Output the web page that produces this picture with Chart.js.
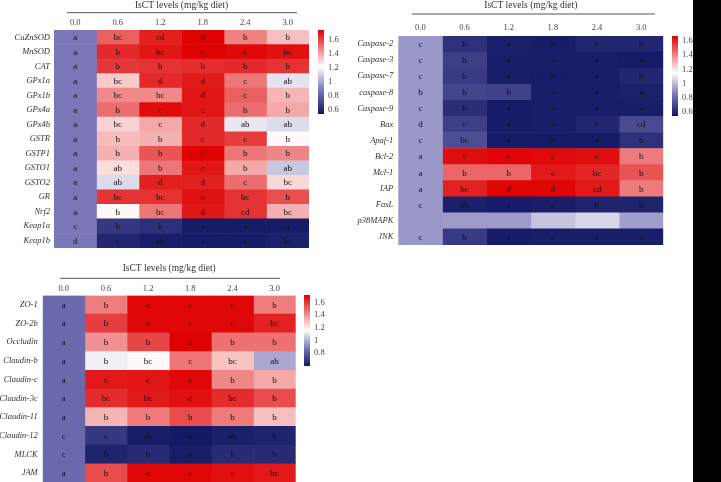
<!DOCTYPE html>
<html><head><meta charset="utf-8">
<script src="https://cdn.jsdelivr.net/npm/chart.js@4.4.1/dist/chart.umd.min.js"></script>
<style>
html,body{margin:0;padding:0;background:#fff;overflow:hidden;width:721px;height:482px;}
canvas{position:absolute;}
#blk{position:absolute;left:693px;top:0;width:28px;height:482px;background:#000;z-index:5;}
</style></head><body>
<canvas id="h1"></canvas><canvas id="h2"></canvas><canvas id="h3"></canvas>
<canvas id="c1"></canvas><canvas id="c2"></canvas><canvas id="c3"></canvas>
<div id="blk"></div>
<script>
// ---------- data ----------
const doses = ['0.0','0.6','1.2','1.8','2.4','3.0'];
const axisTitle = 'IsCT levels (mg/kg diet)';

const antioxGenes = ['CuZnSOD','MnSOD','CAT','GPx1a','GPx1b','GPx4a','GPx4b','GSTR','GSTP1','GSTO1','GSTO2','GR','Nrf2','Keap1a','Keap1b'];
const antioxValues = [
  [0.88,1.55,1.68,1.74,1.48,1.35],
  [0.88,1.66,1.70,1.74,1.73,1.71],
  [0.88,1.63,1.64,1.65,1.66,1.64],
  [0.88,1.33,1.66,1.69,1.50,1.15],
  [0.88,1.46,1.46,1.70,1.55,1.37],
  [0.88,1.52,1.72,1.70,1.52,1.40],
  [0.88,1.31,1.40,1.66,1.16,1.13],
  [0.88,1.36,1.38,1.66,1.62,1.23],
  [0.88,1.38,1.57,1.74,1.50,1.47],
  [0.88,1.29,1.50,1.70,1.40,1.08],
  [0.88,1.13,1.68,1.68,1.52,1.30],
  [0.88,1.64,1.64,1.71,1.64,1.58],
  [0.88,1.23,1.50,1.70,1.64,1.38],
  [0.88,0.66,0.63,0.56,0.56,0.56],
  [0.88,0.60,0.57,0.56,0.56,0.58]
];
const antioxLetters = [
  ['a','bc','cd','d','b','b'],
  ['a','b','bc','c','c','bc'],
  ['a','b','b','b','b','b'],
  ['a','bc','d','d','c','ab'],
  ['a','bc','bc','d','c','b'],
  ['a','b','c','c','b','b'],
  ['a','bc','c','d','ab','ab'],
  ['a','b','b','c','c','b'],
  ['a','b','b','c','b','b'],
  ['a','ab','b','c','b','ab'],
  ['a','ab','d','d','c','bc'],
  ['a','bc','bc','c','bc','b'],
  ['a','b','bc','d','cd','bc'],
  ['c','b','b','a','a','a'],
  ['d','c','ab','a','a','bc']
];

const apopGenes = ['Caspase-2','Caspase-3','Caspase-7','caspase-8','Caspase-9','Bax','Apaf-1','Bcl-2','Mcl-1','IAP','FasL','p38MAPK','JNK'];
const apopValues = [
  [0.92,0.63,0.575,0.565,0.60,0.60],
  [0.92,0.67,0.57,0.57,0.57,0.56],
  [0.92,0.66,0.57,0.565,0.57,0.60],
  [0.92,0.69,0.68,0.57,0.57,0.58],
  [0.92,0.62,0.565,0.57,0.57,0.57],
  [0.92,0.67,0.565,0.57,0.60,0.71],
  [0.92,0.72,0.56,0.56,0.56,0.63],
  [0.92,1.64,1.66,1.65,1.64,1.42],
  [0.92,1.46,1.46,1.62,1.59,1.50],
  [0.92,1.60,1.66,1.66,1.62,1.42],
  [0.92,0.575,0.565,0.57,0.59,0.59],
  [0.92,0.93,0.93,1.02,1.06,0.935],
  [0.92,0.66,0.565,0.57,0.57,0.57]
];
const apopLetters = [
  ['c','b','a','a','b','b'],
  ['c','b','a','a','a','a'],
  ['c','b','a','a','a','b'],
  ['b','b','b','a','a','a'],
  ['c','b','a','a','a','a'],
  ['d','c','a','a','b','cd'],
  ['c','bc','a','a','a','b'],
  ['a','c','c','c','c','b'],
  ['a','b','b','c','bc','b'],
  ['a','bc','d','d','cd','b'],
  ['c','ab','a','a','b','b'],
  ['','','','','',''],
  ['c','b','a','a','a','a']
];

const tjGenes = ['ZO-1','ZO-2b','Occludin','Claudin-b','Claudin-c','Claudin-3c','Claudin-11','Claudin-12','MLCK','JAM'];
const tjValues = [
  [0.84,1.44,1.70,1.70,1.70,1.44],
  [0.84,1.58,1.70,1.70,1.70,1.64],
  [0.84,1.40,1.56,1.71,1.47,1.47],
  [0.84,1.13,1.17,1.46,1.29,0.98],
  [0.84,1.66,1.67,1.70,1.42,1.35],
  [0.84,1.62,1.66,1.68,1.62,1.55],
  [0.84,1.32,1.45,1.55,1.45,1.30],
  [0.84,0.70,0.62,0.61,0.63,0.64],
  [0.84,0.64,0.66,0.62,0.66,0.66],
  [0.84,1.55,1.70,1.70,1.68,1.66]
];
const tjLetters = [
  ['a','b','c','c','c','b'],
  ['a','b','c','c','c','bc'],
  ['a','b','b','c','b','b'],
  ['a','b','bc','c','bc','ab'],
  ['a','c','c','c','b','b'],
  ['a','bc','bc','c','bc','b'],
  ['a','b','b','b','b','b'],
  ['c','c','ab','a','ab','b'],
  ['c','b','b','a','b','b'],
  ['a','b','c','c','c','bc']
];

const scale1Ticks = [0.6,0.8,1,1.2,1.4,1.6];
const scale2Ticks = [0.6,0.8,1,1.2,1.4,1.6];
const scale3Ticks = [0.8,1,1.2,1.4,1.6];

// ---------- colour map ----------
const NAVY=[16,22,98], LAV=[122,118,184], WHITE=[255,255,255], RED=[222,0,0];
function mix(a,b,t){return a.map((v,k)=>Math.round(v+(b[k]-v)*t));}
function colorFor(v,cm){
  let c;
  if(v<=cm.mid){
    let t=Math.max(0,(v-cm.lo)/(cm.mid-cm.lo));
    c = t<0.5 ? mix(NAVY,LAV,t/0.5) : mix(LAV,WHITE,(t-0.5)/0.5);
  } else {
    let t=Math.min(1,(v-cm.mid)/(cm.hi-cm.mid));
    c = mix(WHITE,RED,t);
  }
  return 'rgb('+c.join(',')+')';
}

const SERIF="'Liberation Serif', 'DejaVu Serif', serif";

const cellText = {
  id:'cellText',
  afterDatasetsDraw(chart){
    const ctx=chart.ctx; ctx.save();
    ctx.font="9px "+SERIF; ctx.fillStyle='#111';
    ctx.textAlign='center'; ctx.textBaseline='middle';
    chart.data.datasets.forEach((ds,i)=>{
      const meta=chart.getDatasetMeta(i);
      meta.data.forEach((el,j)=>{
        const t=ds.letters[j]; if(!t) return;
        const p=el.getProps(['x','y','base'],true);
        ctx.fillText(t,(p.x+p.base)/2,p.y+0.5);
      });
    });
    ctx.restore();
  }
};
const headLine = {
  id:'headLine',
  afterDraw(chart,args,o){
    const ca=chart.chartArea, ctx=chart.ctx;
    ctx.save(); ctx.strokeStyle='#555'; ctx.lineWidth=1;
    ctx.beginPath(); ctx.moveTo(ca.left+o.inL,o.y); ctx.lineTo(ca.right-o.inR,o.y); ctx.stroke();
    ctx.restore();
  }
};

function place(id,left,top,w,h){
  const c=document.getElementById(id);
  c.width=Math.ceil(w); c.height=Math.ceil(h);
  c.style.left=left+'px'; c.style.top=top+'px';
  return c;
}

function makeHeat(id,g,rows,values,letters,cm,line){
  const w=g.right-g.left, h=g.bottom-g.top;
  const c=place(id,g.left,g.top,w,h);
  new Chart(c,{
    type:'bar',
    data:{labels:rows,datasets:doses.map((d,i)=>({
      data:rows.map(()=>[i,i+1]),
      backgroundColor:rows.map((r,j)=>colorFor(values[j][i],cm)),
      letters:rows.map((r,j)=>letters[j][i]),
      grouped:false,
      borderWidth:0,barPercentage:1,categoryPercentage:1
    }))},
    options:{
      indexAxis:'y',animation:false,responsive:false,devicePixelRatio:1,events:[],
      layout:{padding:{left:0,top:0,right:c.width-w,bottom:c.height-h}},
      plugins:{legend:{display:false},tooltip:{enabled:false},headLine:line},
      scales:{
        x:{type:'linear',position:'top',min:0,max:6,
          grid:{display:false,drawTicks:false},border:{display:false},
          ticks:{padding:g.tickPad,autoSkip:false,maxRotation:0,color:'#444',font:{family:SERIF,size:8.5},
            callback:(v,i)=>doses[i]},
          afterBuildTicks:s=>{s.ticks=doses.map((d,i)=>({value:i+0.5}));},
          afterFit:s=>{s.height=g.axisH;s.paddingLeft=0;s.paddingRight=0;},
          title:{display:true,text:axisTitle,color:'#333',font:{family:SERIF,size:9.5},padding:0}
        },
        y:{type:'category',grid:{display:false,drawTicks:false},border:{display:false},
          ticks:{padding:g.rowPad,autoSkip:false,color:'#333',font:{family:SERIF,size:8.5,style:'italic'}},
          afterFit:s=>{s.width=g.axisW;s.paddingTop=0;s.paddingBottom=0;}
        }
      }
    },
    plugins:[cellText,headLine]
  });
}

function makeBar(id,g,cm,ticks){
  const c=place(id,g.left,g.top,g.w,g.h);
  new Chart(c,{
    type:'bar',
    data:{labels:[''],datasets:[{data:[[cm.lo,cm.hi]],borderWidth:0,barPercentage:1,categoryPercentage:1,
      backgroundColor:(ctx)=>{
        const ch=ctx.chart; if(!ch.chartArea) return null;
        const ys=ch.scales.y;
        const y0=ys.getPixelForValue(cm.lo), y1=ys.getPixelForValue(cm.hi);
        const gr=ch.ctx.createLinearGradient(0,y0,0,y1);
        const N=60;
        for(let k=0;k<=N;k++){const v=cm.lo+(cm.hi-cm.lo)*k/N; gr.addColorStop(k/N,colorFor(v,cm));}
        return gr;
      }}]},
    options:{
      animation:false,responsive:false,devicePixelRatio:1,events:[],
      layout:{padding:0},
      plugins:{legend:{display:false},tooltip:{enabled:false}},
      scales:{
        x:{display:false},
        y:{type:'linear',position:'right',min:cm.lo,max:cm.hi,
          grid:{display:false,drawTicks:false},border:{display:false},
          ticks:{padding:4,color:'#444',font:{family:SERIF,size:8.5},callback:(v)=>String(Math.round(v*10)/10)},
          afterBuildTicks:s=>{s.ticks=ticks.map(v=>({value:v}));},
          afterFit:s=>{s.width=g.w-g.barW;s.paddingTop=0;s.paddingBottom=0;}
        }
      }
    }
  });
}

const cm1={lo:0.54,mid:1.22,hi:1.745};
const cm2={lo:0.545,mid:1.15,hi:1.67};
const cm3={lo:0.6,mid:1.16,hi:1.715};

makeHeat('h1',{left:0,top:0,right:309,bottom:248,axisW:54,axisH:30,tickPad:2,rowPad:4},
  antioxGenes,antioxValues,antioxLetters,cm1,{y:12.7,inL:13,inR:12});
makeHeat('h2',{left:340,top:0,right:663.3,bottom:245,axisW:58.3,axisH:36,tickPad:3,rowPad:5},
  apopGenes,apopValues,apopLetters,cm2,{y:14,inL:13.4,inR:8.3});
makeHeat('h3',{left:0,top:263,right:295.7,bottom:482.5,axisW:42.7,axisH:32.5,tickPad:2,rowPad:5},
  tjGenes,tjValues,tjLetters,cm3,{y:15.3,inL:17.3,inR:15.7});

makeBar('c1',{left:318,top:30,w:50,h:83.5,barW:6},cm1,scale1Ticks);
makeBar('c2',{left:672,top:36,w:40,h:80,barW:6},cm2,scale2Ticks);
makeBar('c3',{left:304,top:295,w:50,h:71,barW:6},cm3,scale3Ticks);
</script>
</body></html>
